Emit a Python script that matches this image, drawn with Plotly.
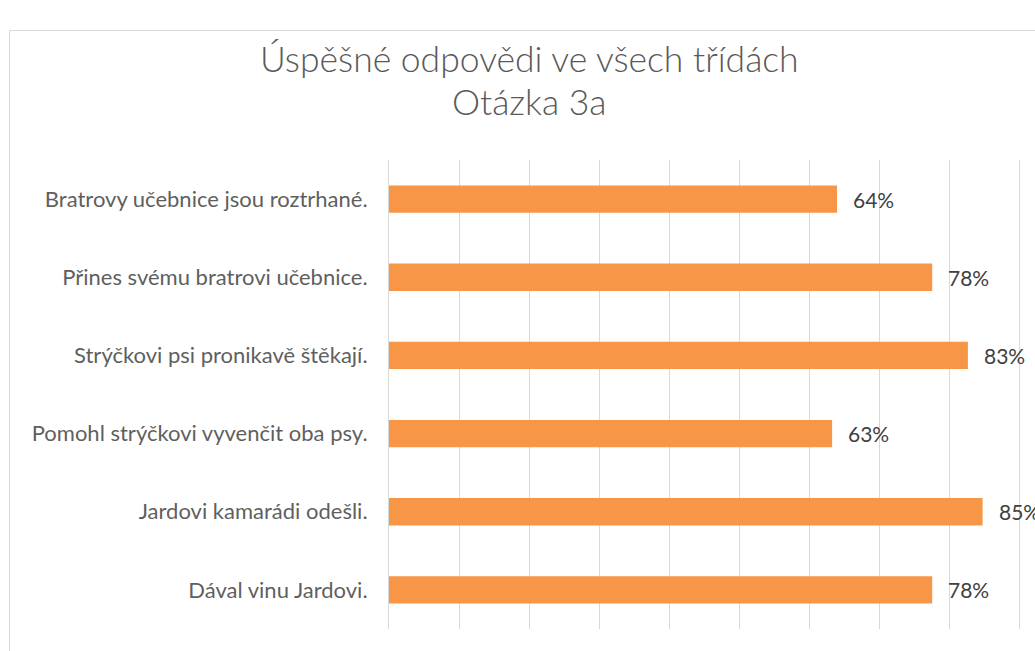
import plotly.graph_objects as go

categories = [
    "Bratrovy učebnice jsou roztrhané.",
    "Přines svému bratrovi učebnice.",
    "Strýčkovi psi pronikavě štěkají.",
    "Pomohl strýčkovi vyvenčit oba psy.",
    "Jardovi kamarádi odešli.",
    "Dával vinu Jardovi.",
]
values = [0.64, 0.776, 0.827, 0.633, 0.848, 0.776]
grid_ticks = [0, 0.1, 0.2, 0.3, 0.4, 0.5, 0.6, 0.7, 0.8, 0.9]
title_lines = ["Úspěšné odpovědi ve všech třídách", "Otázka 3a"]

W, H = 1035, 651
L, T, B = 389, 160, 22
FONT = "Lato"

fig = go.Figure(
    go.Bar(
        x=values,
        y=categories,
        orientation="h",
        marker=dict(color="#F79646", line=dict(width=0)),
        width=0.35,
        hoverinfo="skip",
    )
)

# value labels, a little away from the bar end
for cat, val in zip(categories, values):
    fig.add_annotation(
        x=val, y=cat, text=f"{val:.0%}", showarrow=False,
        xanchor="left", xshift=14,
        font=dict(family=FONT, size=21, color="#404040"),
    )

# two-line title, placed line by line
for line, ypix in zip(title_lines, [58, 101]):
    fig.add_annotation(
        xref="paper", yref="paper",
        x=(529 - L) / (W - L), y=1 + (T - ypix) / (H - T - B),
        text=line, showarrow=False,
        xanchor="center", yanchor="middle",
        font=dict(family=FONT, size=35.5, weight=300, color="#595959"),
    )

fig.update_layout(
    width=W,
    height=H,
    margin=dict(l=L, r=0, t=T, b=B),
    paper_bgcolor="white",
    plot_bgcolor="white",
    showlegend=False,
    xaxis=dict(
        range=[0, (W - L) / 700],
        tickvals=grid_ticks,
        showticklabels=False,
        showgrid=True,
        gridcolor="#d9d9d9",
        gridwidth=1,
        zeroline=False,
        showline=False,
    ),
    yaxis=dict(
        autorange="reversed",
        showgrid=False,
        zeroline=False,
        showline=True,
        linecolor="#d9d9d9",
        ticks="",
        ticklabelstandoff=16,
        tickfont=dict(family=FONT, size=22, color="#5f5f5f"),
    ),
    shapes=[
        dict(
            type="rect", xref="paper", yref="paper",
            x0=(9.5 - L) / (W - L), x1=1.2,
            y0=-1, y1=1 + (T - 30.5) / (H - T - B),
            line=dict(color="#d9d9d9", width=1),
            fillcolor="rgba(0,0,0,0)", layer="below",
        )
    ],
)

fig.write_html(
    "out.html",
    config={"displayModeBar": False},
    post_script="document.body.style.margin='0';",
)
